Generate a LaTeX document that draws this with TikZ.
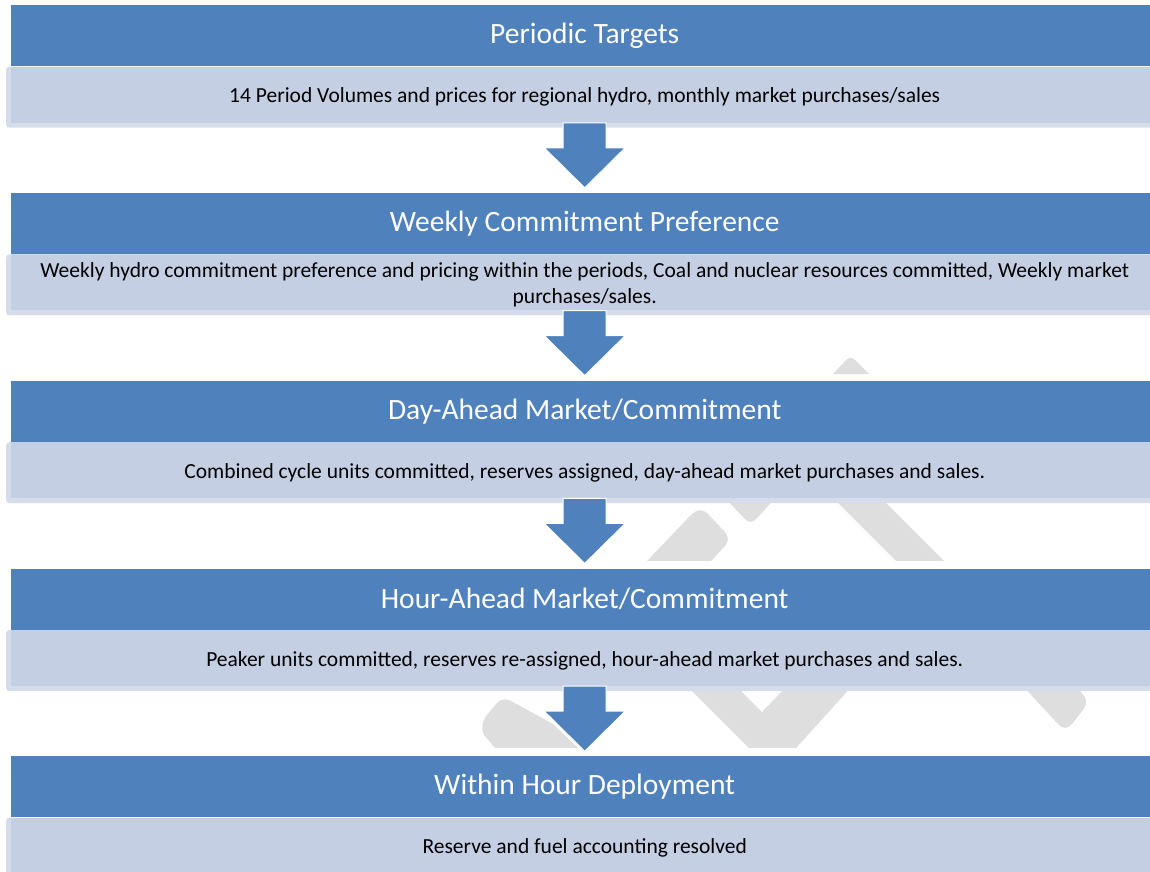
\documentclass[tikz,border=0pt]{standalone}
\usepackage{fontspec}
\setmainfont{Carlito}
\usetikzlibrary{positioning,calc}
\definecolor{hdblue}{HTML}{4F81BD}
\definecolor{bdfill}{HTML}{C4CFE3}
\definecolor{bdrim}{HTML}{D5DCEB}
\definecolor{wmgray}{HTML}{DEDEDE}
\tikzset{
  hdbar/.style={rectangle, fill=hdblue, text=white, minimum width=1147pt, minimum height=61pt, inner sep=0pt, font=\fontsize{29.5}{34}\selectfont},
  bdbox/.style={rectangle, rounded corners=3pt, fill=bdrim, text=black, minimum width=1157pt, minimum height=61pt, inner sep=0pt, align=center, font=\fontsize{21.5}{26}\selectfont,
    path picture={\fill[bdfill, sharp corners] ($(path picture bounding box.north west)+(5pt,0pt)$) rectangle ($(path picture bounding box.south east)+(0pt,5pt)$);}},
  flowarrow/.style={fill=hdblue, draw=white, line width=1pt,
    to path={let \p1=(\tikztostart), \p2=(\tikztotarget) in
      (\x1-21.5pt,\y1+5pt) -- (\x1-21.5pt,\y1-20pt) -- (\x1-40.5pt,\y1-20pt) -- (\x1,\y2+5pt)
      -- (\x1+40.5pt,\y1-20pt) -- (\x1+21.5pt,\y1-20pt) -- (\x1+21.5pt,\y1+5pt) -- cycle}},
  wmark/.style={fill=wmgray}
}

\begin{document}
\begin{tikzpicture}[x=1pt, y=-1pt]
\useasboundingbox (0,0) rectangle (1150,871);

% watermark bits showing between the stages
\fill[wmark] (833,374) -- (846,360) .. controls (849,357) and (852,357) .. (855,360) -- (869,374) -- cycle;
\fill[wmark] (647,561) -- (692,514) .. controls (697,509) and (703,509) .. (708,514) -- (724,531) .. controls (729,536) and (729,541) .. (725,546) -- (711,561) -- cycle;
\fill[wmark] (722,495) -- (744,518) .. controls (748,523) and (753,523) .. (757,518) -- (778,495) -- cycle;
\fill[wmark] (830,495) -- (896,561) -- (944,561) -- (878,495) -- cycle;
\fill[wmark] (495,748) -- (484,735) .. controls (481,728) and (482,722) .. (486,716) -- (497,703) .. controls (501,699) and (506,698) .. (511,701) -- (553,724) -- (578,748) -- cycle;
\fill[wmark] (685,684) -- (749,748) -- (796,748) -- (854,684) -- (789,684) -- (762,712) -- (734,684) -- cycle;
\fill[wmark] (1021,684) -- (1058,724) .. controls (1062,729) and (1068,729) .. (1072,724) -- (1083,710) .. controls (1087,705) and (1087,700) .. (1084,696) -- (1075,684) -- cycle;

% Stage 1
\node[hdbar, anchor=north west] (hd1) at (11,5) {Periodic Targets};
\node[bdbox, below=0pt of hd1] (bd1) {14 Period Volumes and prices for regional hydro, monthly market purchases/sales};

% Stage 2
\node[hdbar, below=65pt of bd1] (hd2) {Weekly Commitment Preference};
\node[bdbox, below=0pt of hd2] (bd2) {Weekly hydro commitment preference and pricing within the periods, Coal and nuclear resources committed, Weekly market\\purchases/sales.};

% Stage 3
\node[hdbar, below=65pt of bd2] (hd3) {Day-Ahead Market/Commitment};
\node[bdbox, below=0pt of hd3] (bd3) {Combined cycle units committed, reserves assigned, day-ahead market purchases and sales.};

% Stage 4
\node[hdbar, below=65pt of bd3] (hd4) {Hour-Ahead Market/Commitment};
\node[bdbox, below=0pt of hd4] (bd4) {Peaker units committed, reserves re-assigned, hour-ahead market purchases and sales.};

% Stage 5
\node[hdbar, below=65pt of bd4] (hd5) {Within Hour Deployment};
\node[bdbox, below=0pt of hd5] (bd5) {Reserve and fuel accounting resolved};

% block arrows
\path[flowarrow] (bd1.south) to (hd2.north);
\path[flowarrow] (bd2.south) to (hd3.north);
\path[flowarrow] (bd3.south) to (hd4.north);
\path[flowarrow] (bd4.south) to (hd5.north);

\end{tikzpicture}
\end{document}
